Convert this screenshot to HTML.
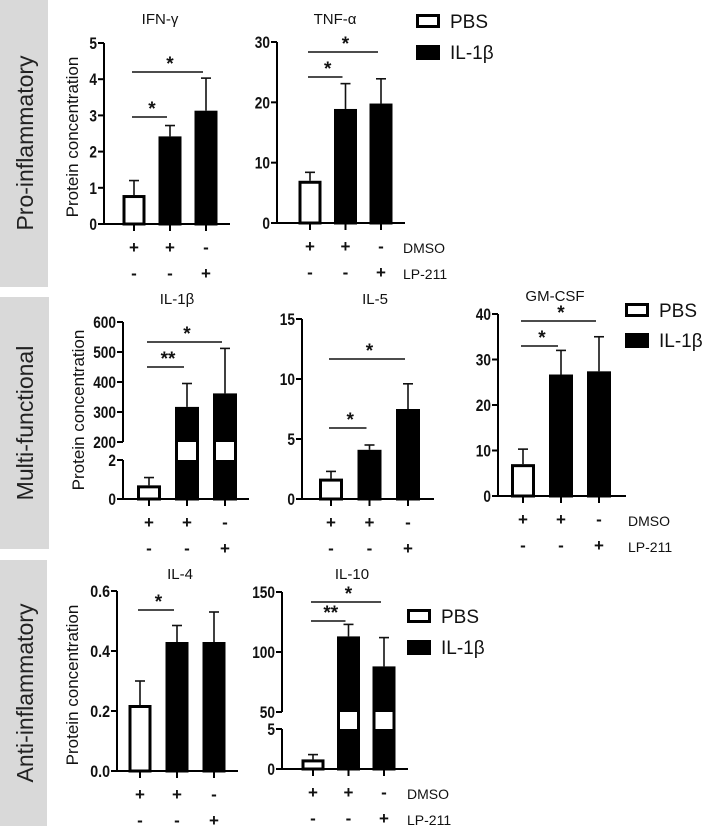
<!DOCTYPE html>
<html><head><meta charset="utf-8"><style>
body{margin:0;background:#fff}
svg{display:block;font-family:"Liberation Sans",sans-serif}
</style></head><body>
<svg id="fig" width="709" height="826" viewBox="0 0 709 826">
<rect x="0" y="0" width="48" height="287" fill="#d9d9d9"/>
<text transform="translate(33,143) rotate(-90)" text-anchor="middle" font-size="23" fill="#222">Pro-inflammatory</text>
<rect x="0" y="297" width="49" height="252" fill="#d9d9d9"/>
<text transform="translate(33,423) rotate(-90)" text-anchor="middle" font-size="23" fill="#222">Multi-functional</text>
<rect x="0" y="560" width="47" height="266" fill="#d9d9d9"/>
<text transform="translate(33,693) rotate(-90)" text-anchor="middle" font-size="23" fill="#222">Anti-inflammatory</text>
</svg>
<script>
// ---- data ----
const categories = ['PBS + DMSO', 'IL-1β + DMSO', 'IL-1β + LP-211'];
const dmsoSigns = ['+', '+', '-'];
const lpSigns = ['-', '-', '+'];
const ifnValues = [0.8, 2.42, 3.13];
const ifnErrors = [0.4, 0.3, 0.9];
const tnfValues = [7, 18.9, 19.8];
const tnfErrors = [1.4, 4.2, 4.1];
const il1bValues = [0.7, 317, 362];
const il1bErrors = [0.4, 78, 150];
const il5Values = [1.7, 4.1, 7.5];
const il5Errors = [0.6, 0.4, 2.1];
const gmcsfValues = [7, 26.7, 27.4];
const gmcsfErrors = [3.3, 5.3, 7.6];
const il4Values = [0.22, 0.43, 0.43];
const il4Errors = [0.08, 0.055, 0.1];
const il10Values = [1.2, 113, 88];
const il10Errors = [0.6, 10, 24];
const ifnTicks = [0, 1, 2, 3, 4, 5];
const tnfTicks = [0, 10, 20, 30];
const il1bLowTicks = [0, 2];
const il1bHighTicks = [200, 300, 400, 500, 600];
const il5Ticks = [0, 5, 10, 15];
const gmcsfTicks = [0, 10, 20, 30, 40];
const il4Ticks = ['0.0', '0.2', '0.4', '0.6'];
const il10LowTicks = [0, 5];
const il10HighTicks = [50, 100, 150];

const NS = 'http://www.w3.org/2000/svg';
const svg = document.getElementById('fig');
function mk(tag, attrs, parent) {
  const e = document.createElementNS(NS, tag);
  for (const k in attrs) e.setAttribute(k, attrs[k]);
  (parent || svg).appendChild(e);
  return e;
}

function panel(p) {
  const g = mk('g', {});
  
  
  function y(v) {
    v = Number(v);
    if (p.broken) {
      const b = p.broken;
      if (v <= b.lowMax) return p.base - (v / b.lowMax) * (p.base - b.lowTop);
      return b.highBottom - (v - b.highMin) / (b.highMax - b.highMin) * (b.highBottom - p.top);
    }
    return p.base - v / p.max * (p.base - p.top);
  }
  const step = (p.c2 - p.c0) / 2;
  const cx = i => p.c0 + i * step;
  const t = mk('text', {x: p.titleX, y: p.titleY, 'text-anchor': 'middle', 'font-size': 15, fill: '#111'}, g);
  t.textContent = p.title;
  
  
  p.values.forEach((v, i) => {
    const x = cx(i) - p.bw / 2;
    const top = y(v);
    const eTop = y(v + p.errors[i]);
    const el = mk('line', {x1: cx(i), x2: cx(i), y1: top, y2: eTop, stroke: '#111', 'stroke-width': 1.6}, g);
    
    
    const cap = mk('line', {x1: cx(i) - 5, x2: cx(i) + 5, y1: eTop, y2: eTop, stroke: '#111', 'stroke-width': 1.6}, g);
    
    
    const r = mk('rect', {x: x + 1.5, y: top + 1.5, width: p.bw - 3, height: p.base - top - 1.5, fill: i === 0 ? '#fff' : '#000', stroke: '#000', 'stroke-width': 3}, g);
    
    
    if (p.broken && v > p.broken.lowMax) {
      const w = mk('rect', {x: x + 3, y: p.broken.highBottom, width: p.bw - 6, height: p.broken.lowTop - p.broken.highBottom, fill: '#fff'}, g);
      
      
    }
  });
  const ax = p.ax;
  if (p.broken) {
    mk('line', {x1: ax, x2: ax, y1: p.base, y2: p.broken.lowTop, stroke: '#000', 'stroke-width': 2}, g);
    mk('line', {x1: ax, x2: ax, y1: p.broken.highBottom, y2: p.top, stroke: '#000', 'stroke-width': 2}, g);
  } else {
    mk('line', {x1: ax, x2: ax, y1: p.base + 1, y2: p.top, stroke: '#000', 'stroke-width': 2}, g);
  }
  const xa = mk('line', {x1: ax - 6, x2: p.xEnd, y1: p.base, y2: p.base, stroke: '#000', 'stroke-width': 2}, g);
  
  
  function tick(v) {
    const yy = y(v);
    mk('line', {x1: ax - 6, x2: ax, y1: yy, y2: yy, stroke: '#000', 'stroke-width': 2}, g);
    const s = String(v);
    const tl = mk('text', {x: ax - 7, y: yy + 6, 'text-anchor': 'end', 'font-size': 17, 'font-weight': 'bold', fill: '#111',
      textLength: s.length * 7.6 - (s.indexOf('.') >= 0 ? 3 : 0), lengthAdjust: 'spacingAndGlyphs'}, g);
    tl.textContent = s;
    
    
  }
  p.ticks.forEach(tick);
  if (p.highTicks) p.highTicks.forEach(tick);
  categories.forEach((c, i) => {
    mk('line', {x1: cx(i), x2: cx(i), y1: p.base, y2: p.base + 7, stroke: '#000', 'stroke-width': 2}, g);
    const s1 = mk('text', {x: cx(i), y: p.base + 29, 'text-anchor': 'middle', 'font-size': 17, 'font-weight': 'bold', fill: '#111'}, g);
    s1.textContent = dmsoSigns[i];
    
    
    const s2 = mk('text', {x: cx(i), y: p.base + 55, 'text-anchor': 'middle', 'font-size': 17, 'font-weight': 'bold', fill: '#111'}, g);
    s2.textContent = lpSigns[i];
    
    
  });
  if (p.rowLabels) {
    const d = mk('text', {x: p.rowLabels, y: p.base + 30, 'font-size': 14, fill: '#111'}, g);
    d.textContent = 'DMSO';
    
    
    const l = mk('text', {x: p.rowLabels, y: p.base + 56, 'font-size': 14, fill: '#111'}, g);
    l.textContent = 'LP-211';
    
    
  }
  if (p.ylabel) {
    const yl = mk('text', {transform: 'translate(' + p.ylabel[0] + ',' + p.ylabel[1] + ') rotate(-90)', 'text-anchor': 'middle', 'font-size': 17, fill: '#111'}, g);
    yl.textContent = 'Protein concentration';
    
    
  }
  p.sig.forEach(s => {
    const ln = mk('line', {x1: cx(s[0]) - 2, x2: cx(s[1]) - 3, y1: s[2], y2: s[2], stroke: '#111', 'stroke-width': 1.5}, g);
    
    
    const st = mk('text', {x: (cx(s[0]) + cx(s[1])) / 2, y: s[2] - 2, 'text-anchor': 'middle', 'font-size': 19, 'font-weight': 'bold', fill: '#111'}, g);
    st.textContent = s[3];
    
    
  });
}

function legend(x, y1, y2) {
  const g = mk('g', {});
  
  
  mk('rect', {x: x + 1.5, y: y1 - 5.5, width: 21, height: 11, fill: '#fff', stroke: '#000', 'stroke-width': 3}, g);
  const a = mk('text', {x: x + 34, y: y1 + 7, 'font-size': 19, fill: '#111'}, g);
  a.textContent = 'PBS';
  
  
  mk('rect', {x: x, y: y2 - 7, width: 24, height: 15, fill: '#000'}, g);
  const b = mk('text', {x: x + 34, y: y2 + 7, 'font-size': 19, fill: '#111'}, g);
  b.textContent = 'IL-1β';
  
  
}

panel({id: 'ifn-gamma', title: 'IFN-γ', titleX: 160, titleY: 24, values: ifnValues, errors: ifnErrors, ticks: ifnTicks, max: 5,
  ax: 104, base: 224, top: 43, xEnd: 230, c0: 134, c2: 206, bw: 23, ylabel: [78, 137],
  sig: [[0, 1, 117, '*'], [0, 2, 72, '*']]});
panel({id: 'tnf-alpha', title: 'TNF-α', titleX: 335, titleY: 24, values: tnfValues, errors: tnfErrors, ticks: tnfTicks, max: 30,
  ax: 277, base: 223, top: 42, xEnd: 405, c0: 310, c2: 381, bw: 23, rowLabels: 403,
  sig: [[0, 1, 77, '*'], [0, 2, 52, '*']]});
legend(416, 21, 52);

panel({id: 'il-1beta', title: 'IL-1β', titleX: 177, titleY: 304, values: il1bValues, errors: il1bErrors, ticks: il1bLowTicks, highTicks: il1bHighTicks,
  ax: 123, base: 499, top: 322, xEnd: 249, c0: 149, c2: 225, bw: 24, ylabel: [84, 410],
  broken: {lowMax: 2, lowTop: 460, highMin: 200, highMax: 600, highBottom: 442},
  sig: [[0, 1, 367, '**'], [0, 2, 342, '*']]});
panel({id: 'il-5', title: 'IL-5', titleX: 375, titleY: 304, values: il5Values, errors: il5Errors, ticks: il5Ticks, max: 15,
  ax: 302, base: 499, top: 319, xEnd: 434, c0: 331, c2: 408, bw: 24,
  sig: [[0, 1, 428, '*'], [0, 2, 359, '*']]});
panel({id: 'gm-csf', title: 'GM-CSF', titleX: 555, titleY: 301, values: gmcsfValues, errors: gmcsfErrors, ticks: gmcsfTicks, max: 40,
  ax: 498, base: 496, top: 314, xEnd: 626, c0: 523, c2: 599, bw: 24, rowLabels: 628,
  sig: [[0, 1, 346, '*'], [0, 2, 321, '*']]});
legend(625, 310, 340);

panel({id: 'il-4', title: 'IL-4', titleX: 180, titleY: 579, values: il4Values, errors: il4Errors, ticks: il4Ticks, max: 0.6,
  ax: 117, base: 771, top: 591, xEnd: 238, c0: 140, c2: 214, bw: 23, ylabel: [78, 685],
  sig: [[0, 1, 610, '*']]});
panel({id: 'il-10', title: 'IL-10', titleX: 352, titleY: 579, values: il10Values, errors: il10Errors, ticks: il10LowTicks, highTicks: il10HighTicks,
  ax: 282, base: 769, top: 592, xEnd: 408, c0: 313, c2: 384, bw: 23, rowLabels: 407,
  broken: {lowMax: 5, lowTop: 729, highMin: 50, highMax: 150, highBottom: 712},
  sig: [[0, 1, 621, '**'], [0, 2, 602, '*']]});
legend(407, 616, 647);
</script>
</body></html>
